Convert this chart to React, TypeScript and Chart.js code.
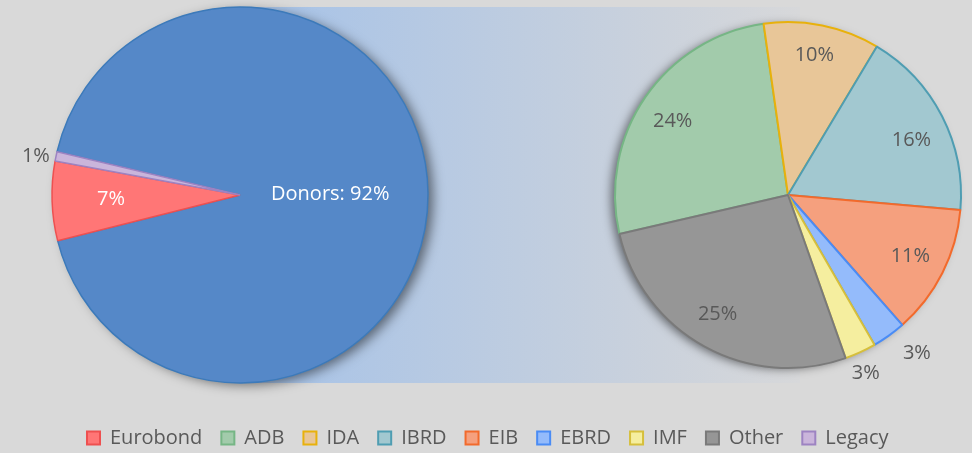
import React, { useEffect, useRef } from 'react';
import { Chart, registerables } from 'chart.js';

Chart.register(...registerables);

// ---- data ----
const mainLabels = ['Donors', 'Eurobond', 'Legacy'];
const mainValues = [92.4, 6.8, 0.8];

const donorLabels = ['ADB', 'IDA', 'IBRD', 'EIB', 'EBRD', 'IMF', 'Other'];
const donorValues = [24.3, 10.0, 16.4, 11.2, 2.9, 2.7, 24.7];

const legendOrder = ['Eurobond', 'ADB', 'IDA', 'IBRD', 'EIB', 'EBRD', 'IMF', 'Other', 'Legacy'];
const namedLabels = ['Donors'];

// ---- styles ----
const FONT = "'Open Sans', 'DejaVu Sans', sans-serif";
const BG = '#d9d9d9';
const TEXT = '#595959';

const FILL: Record<string, string> = {
  Donors: '#5588c8',
  Eurobond: '#ff7676',
  Legacy: '#cab5db',
  ADB: '#a2cbab',
  IDA: '#e8c698',
  IBRD: '#a2c8d0',
  EIB: '#f5a07e',
  EBRD: '#94bbfb',
  IMF: '#f5ee9f',
  Other: '#969696',
};
const EDGE: Record<string, string> = {
  Donors: '#3c7aba',
  Eurobond: '#ee5050',
  Legacy: '#9d83c2',
  ADB: '#76b685',
  IDA: '#e8b10c',
  IBRD: '#4f9db2',
  EIB: '#f26a2c',
  EBRD: '#4a8cf5',
  IMF: '#d6bf3c',
  Other: '#7a7a7a',
};
// label placement: fraction of radius, and angular nudge in degrees
const LABEL_RADIUS: Record<string, number> = {
  Donors: 0.48,
  Eurobond: 0.686,
  Legacy: 1.105,
  ADB: 0.79,
  IDA: 0.82,
  IBRD: 0.78,
  EIB: 0.79,
  EBRD: 1.18,
  IMF: 1.123,
  Other: 0.8,
};
const LABEL_NUDGE: Record<string, number> = {
  Legacy: -1.1,
  ADB: -2,
  IDA: -0.7,
  IBRD: 3.2,
  EIB: -0.4,
  EBRD: -3.5,
  IMF: 1.1,
  Other: 1.8,
};
const LABEL_COLOR: Record<string, string> = {
  Donors: '#ffffff',
  Eurobond: '#ffffff',
};

// canvas placement (page pixels)
const LEFT_CANVAS = { left: 0, top: -45, width: 480, height: 480 };
const RIGHT_CANVAS = { left: 68, top: -19, width: 1440, height: 477 };
const BAND = { x0: 240, x1: 800, y0: 7, y1: 383 };

function makeShadowPlugin(shadow: { dx: number; dy: number; blur: number; color: string }) {
  return {
    id: 'pieShadow',
    beforeDatasetsDraw(chart: any) {
      const meta = chart.getDatasetMeta(0);
      const el = meta.data[0];
      if (!el) return;
      const p = el.getProps(['x', 'y', 'outerRadius'], true);
      const ctx = chart.ctx;
      ctx.save();
      ctx.shadowColor = shadow.color;
      ctx.shadowBlur = shadow.blur;
      ctx.shadowOffsetX = shadow.dx;
      ctx.shadowOffsetY = shadow.dy;
      ctx.fillStyle = '#888888';
      ctx.beginPath();
      ctx.arc(p.x, p.y, p.outerRadius - 1, 0, Math.PI * 2);
      ctx.fill();
      ctx.restore();
    },
  };
}

const sliceLabelPlugin = {
  id: 'sliceLabels',
  afterDatasetsDraw(chart: any) {
    const ctx = chart.ctx;
    const meta = chart.getDatasetMeta(0);
    const labels = chart.data.labels as string[];
    const values = chart.data.datasets[0].data as number[];
    ctx.save();
    ctx.font = `20px ${FONT}`;
    ctx.textAlign = 'center';
    ctx.textBaseline = 'middle';
    meta.data.forEach((el: any, i: number) => {
      const p = el.getProps(['x', 'y', 'startAngle', 'endAngle', 'outerRadius'], true);
      const mid = (p.startAngle + p.endAngle) / 2 + ((LABEL_NUDGE[labels[i]] ?? 0) * Math.PI) / 180;
      const r = p.outerRadius * (LABEL_RADIUS[labels[i]] ?? 0.8);
      const tx = p.x + Math.cos(mid) * r;
      const ty = p.y + Math.sin(mid) * r;
      const pct = Math.round(values[i]) + '%';
      const text = namedLabels.includes(labels[i]) ? `${labels[i]}: ${pct}` : pct;
      ctx.fillStyle = LABEL_COLOR[labels[i]] ?? TEXT;
      ctx.fillText(text, tx, ty);
    });
    ctx.restore();
  },
};

const bandPlugin = {
  id: 'band',
  beforeDraw(chart: any) {
    const ctx = chart.ctx;
    const ox = RIGHT_CANVAS.left;
    const oy = RIGHT_CANVAS.top;
    const x0 = BAND.x0 - ox;
    const x1 = BAND.x1 - ox;
    const y0 = BAND.y0 - oy;
    const y1 = BAND.y1 - oy;
    const g = ctx.createLinearGradient(x0, 0, x1, 0);
    g.addColorStop(0, '#a5c2e8');
    g.addColorStop(0.75, '#cbd2dc');
    g.addColorStop(1, '#d7d8da');
    ctx.save();
    ctx.fillStyle = g;
    ctx.fillRect(x0, y0, x1 - x0, y1 - y0);
    ctx.restore();
  },
};

export default function App() {
  const leftRef = useRef<HTMLCanvasElement>(null);
  const rightRef = useRef<HTMLCanvasElement>(null);

  useEffect(() => {
    Chart.defaults.font.family = FONT;

    const right = new Chart(rightRef.current as HTMLCanvasElement, {
      type: 'pie',
      data: {
        labels: donorLabels,
        datasets: [
          {
            data: donorValues,
            backgroundColor: donorLabels.map((l) => FILL[l]),
            borderColor: donorLabels.map((l) => EDGE[l]),
            borderWidth: 2,
          },
        ],
      },
      options: {
        responsive: false,
        animation: false,
        events: [],
        radius: 173,
        rotation: 257,
        layout: { padding: 0 },
        plugins: {
          tooltip: { enabled: false },
          legend: {
            display: true,
            position: 'bottom',
            align: 'start',
            onClick: () => {},
            labels: {
              boxWidth: 13,
              boxHeight: 13,
              padding: 19,
              color: TEXT,
              font: { family: FONT, size: 20 },
              generateLabels: () =>
                legendOrder.map((name, i) => ({
                  text: name,
                  fillStyle: FILL[name],
                  strokeStyle: EDGE[name],
                  lineWidth: 2,
                  hidden: false,
                  index: i,
                  fontColor: TEXT,
                })),
            },
          },
        },
      } as any,
      plugins: [bandPlugin, makeShadowPlugin({ dx: -5, dy: 2, blur: 10, color: 'rgba(0,0,0,0.5)' }), sliceLabelPlugin],
    });

    const left = new Chart(leftRef.current as HTMLCanvasElement, {
      type: 'pie',
      data: {
        labels: mainLabels,
        datasets: [
          {
            data: mainValues,
            backgroundColor: mainLabels.map((l) => FILL[l]),
            borderColor: mainLabels.map((l) => EDGE[l]),
            borderWidth: 1.5,
          },
        ],
      },
      options: {
        responsive: false,
        animation: false,
        events: [],
        radius: 188,
        rotation: 283.3,
        layout: { padding: 0 },
        plugins: {
          tooltip: { enabled: false },
          legend: { display: false },
        },
      } as any,
      plugins: [makeShadowPlugin({ dx: 6, dy: 3, blur: 12, color: 'rgba(0,0,0,0.5)' }), sliceLabelPlugin],
    });

    return () => {
      right.destroy();
      left.destroy();
    };
  }, []);

  return (
    <div
      style={{
        position: 'fixed',
        left: 0,
        top: 0,
        width: 972,
        height: 453,
        overflow: 'hidden',
        background: BG,
      }}
    >
      <canvas
        ref={rightRef}
        width={RIGHT_CANVAS.width}
        height={RIGHT_CANVAS.height}
        style={{
          position: 'absolute',
          left: RIGHT_CANVAS.left,
          top: RIGHT_CANVAS.top,
          width: RIGHT_CANVAS.width,
          height: RIGHT_CANVAS.height,
        }}
      />
      <canvas
        ref={leftRef}
        width={LEFT_CANVAS.width}
        height={LEFT_CANVAS.height}
        style={{
          position: 'absolute',
          left: LEFT_CANVAS.left,
          top: LEFT_CANVAS.top,
          width: LEFT_CANVAS.width,
          height: LEFT_CANVAS.height,
        }}
      />
    </div>
  );
}
